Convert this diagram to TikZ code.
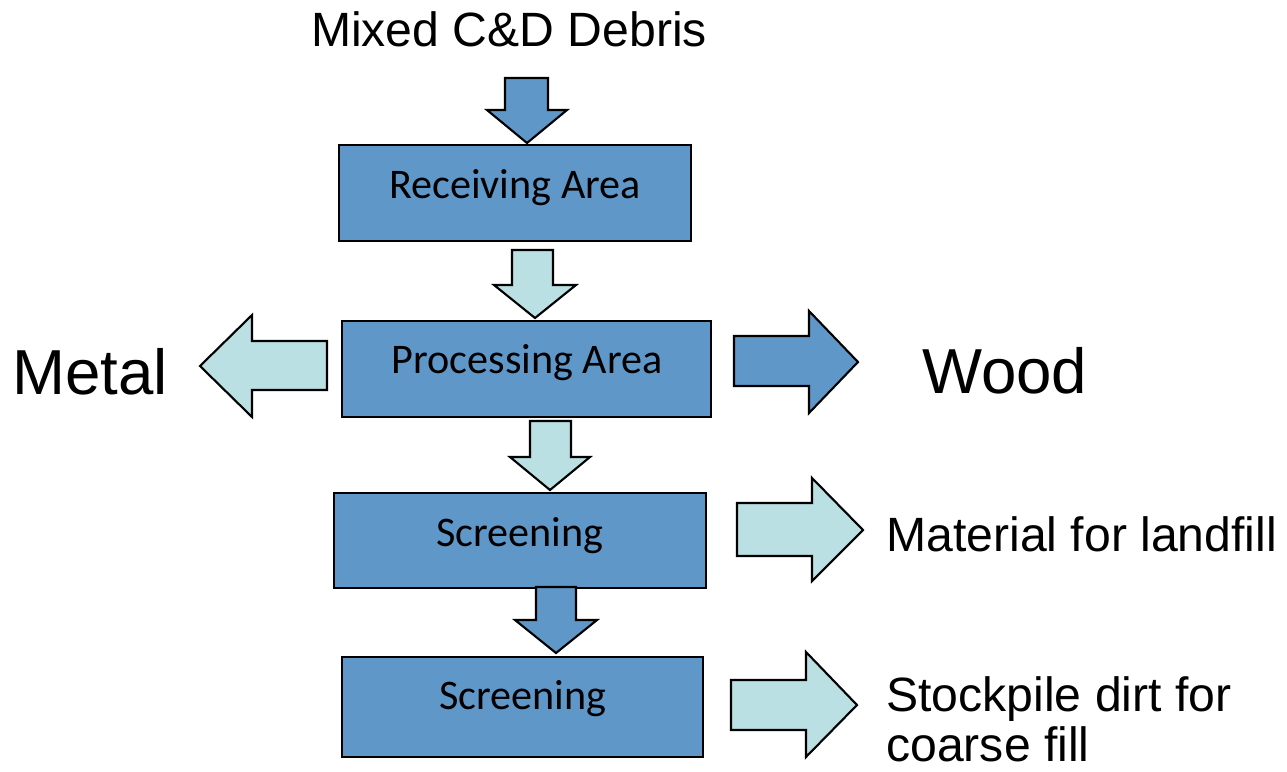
\documentclass[tikz,border=0pt]{standalone}
\usepackage{fontspec}
\setmainfont{Liberation Sans}
\newfontfamily\boxfont{Carlito}
\definecolor{darkfill}{HTML}{6097C9}
\definecolor{lightfill}{HTML}{BAE0E3}
\begin{document}
\begin{tikzpicture}[x=0.02cm,y=-0.02cm,
  procbox/.style={draw=black,line width=1pt,fill=darkfill},
  boxtext/.style={anchor=base,font=\boxfont\fontsize{24}{28}\selectfont,inner sep=0pt},
  darkarrow/.style={draw=black,line width=1.2pt,fill=darkfill,line join=miter},
  lightarrow/.style={draw=black,line width=1.2pt,fill=lightfill,line join=miter},
  label/.style={inner sep=0pt,font=\fontsize{27.4}{31}\selectfont},
  biglabel/.style={inner sep=0pt,font=\fontsize{36.2}{40}\selectfont}]
\useasboundingbox (0,0) rectangle (1287,771);

% boxes
\draw[procbox] (339,145) rectangle (691,241);
\node[boxtext] (recv) at (515,198) {Receiving Area};
\draw[procbox] (342,321) rectangle (711,417);
\node[boxtext] (proc) at (527,373) {Processing Area};
\draw[procbox] (334,493) rectangle (706,588);
\node[boxtext] (scr1) at (520,546) {Screening};
\draw[procbox] (342,657) rectangle (703,757);
\node[boxtext] (scr2) at (523,709) {Screening};

% down arrows
\draw[darkarrow] (505,78) -- (548,78) -- (548,110) -- (567,110) -- (527,143) -- (487,110) -- (505,110) -- cycle;
\draw[lightarrow] (512,250) -- (553,250) -- (553,285) -- (576,285) -- (535,318) -- (494,285) -- (512,285) -- cycle;
\draw[lightarrow] (530,421) -- (571,421) -- (571,457) -- (590,457) -- (550,490) -- (510,457) -- (530,457) -- cycle;
\draw[darkarrow] (536,587) -- (576,587) -- (576,620) -- (597,620) -- (556,653) -- (515,620) -- (536,620) -- cycle;

% side arrows
\draw[lightarrow] (327,341) -- (327,390) -- (252,390) -- (252,417) -- (200,366) -- (252,315) -- (252,341) -- cycle;
\draw[darkarrow] (734,336) -- (809,336) -- (809,311) -- (858,362) -- (809,413) -- (809,386) -- (734,386) -- cycle;
\draw[lightarrow] (737,503) -- (812,503) -- (812,478) -- (863,530) -- (812,581) -- (812,556) -- (737,556) -- cycle;
\draw[lightarrow] (731,680) -- (806,680) -- (806,652) -- (857,705) -- (806,757) -- (806,730) -- (731,730) -- cycle;

% labels
\node[label,anchor=base] (mixed) at (509,46) {Mixed C\&D Debris};
\node[biglabel,anchor=base west] (metal) at (12,394) {Metal};
\node[biglabel,anchor=base west] (wood) at (922,393) {Wood};
\node[label,anchor=base west] (land) at (886,551) {Material for landfill};
\node[label,anchor=base west] (stock) at (886,711) {Stockpile dirt for};
\node[label,anchor=base west] (coarse) at (886,761) {coarse fill};
\end{tikzpicture}
\end{document}
